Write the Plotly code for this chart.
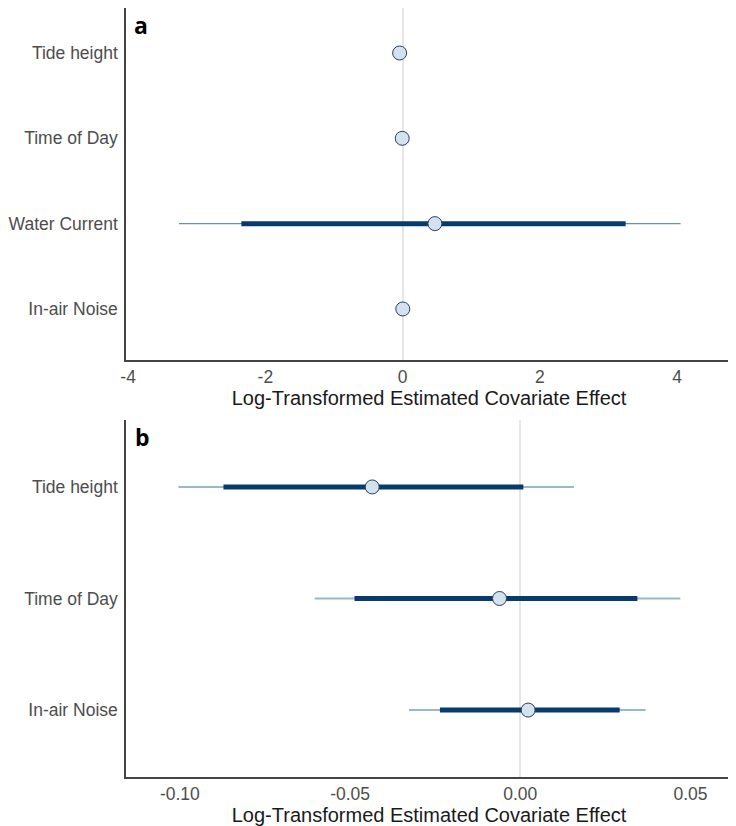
import plotly.graph_objects as go

# ---- data ----
cov_a = ["Tide height", "Time of Day", "Water Current", "In-air Noise"]
est_a = [-0.0435, -0.0061, 0.47, 0.0023]
lo95_a = [-0.1004, -0.0604, -3.26, -0.0327]
hi95_a = [0.0158, 0.0470, 4.05, 0.0368]
lo50_a = [-0.0872, -0.0487, -2.35, -0.0236]
hi50_a = [0.0009, 0.0344, 3.25, 0.0292]

cov_b = ["Tide height", "Time of Day", "In-air Noise"]
est_b = [-0.0435, -0.0061, 0.0023]
lo95_b = [-0.1004, -0.0604, -0.0327]
hi95_b = [0.0158, 0.0470, 0.0368]
lo50_b = [-0.0872, -0.0487, -0.0236]
hi50_b = [0.0009, 0.0344, 0.0292]

ticks_a = [-4, -2, 0, 2, 4]
ticks_b = [-0.10, -0.05, 0.00, 0.05]
xtitle = "Log-Transformed Estimated Covariate Effect"

fig = go.Figure()


def seg(lo, hi, pos):
    xs, ys = [], []
    for l, h, p in zip(lo, hi, pos):
        xs += [l, h, None]
        ys += [p, p, None]
    return xs, ys


def add_panel(cov, est, lo95, hi95, lo50, hi50, xa, ya, thin_color, thin_w):
    n = len(cov)
    pos = [n - i for i in range(n)]
    x, y = seg(lo95, hi95, pos)
    fig.add_trace(go.Scatter(x=x, y=y, mode="lines", xaxis=xa, yaxis=ya,
                             line=dict(color=thin_color, width=thin_w), showlegend=False))
    x, y = seg(lo50, hi50, pos)
    fig.add_trace(go.Scatter(x=x, y=y, mode="lines", xaxis=xa, yaxis=ya,
                             line=dict(color="#073a6d", width=5), showlegend=False))
    fig.add_trace(go.Scatter(x=est, y=pos, mode="markers", xaxis=xa, yaxis=ya,
                             marker=dict(size=14, color="#d2e2ef",
                                         line=dict(color="#2b3d5c", width=1)),
                             showlegend=False))
    return pos


pos_a = add_panel(cov_a, est_a, lo95_a, hi95_a, lo50_a, hi50_a, "x", "y", "#6590b4", 1.3)
pos_b = add_panel(cov_b, est_b, lo95_b, hi95_b, lo50_b, hi50_b, "x2", "y2", "#9ab8cc", 2)

W, H = 728, 818
xdom = [113 / W, 724 / W]
tickfont = dict(family="Liberation Sans, Arial", size=17.5, color="#4d4d4d")
titlefont = dict(family="Liberation Sans, Arial", size=20, color="#1a1a1a")
xcommon = dict(showline=True, linecolor="#444444", linewidth=1.5, showgrid=False,
               ticks="", tickfont=tickfont,
               zeroline=True, zerolinecolor="#e6e6e6", zerolinewidth=1.5)
ycommon = dict(showline=True, linecolor="#444444", linewidth=1.5, showgrid=False,
               ticks="", tickfont=tickfont, zeroline=False, ticklabelstandoff=3)

fig.update_layout(
    width=W, height=H,
    margin=dict(l=0, r=0, t=0, b=0),
    plot_bgcolor="white", paper_bgcolor="white",
    xaxis=dict(domain=xdom, range=[-4.03, 4.8], anchor="y", tickvals=ticks_a,
               ticktext=[f"{v:g}" for v in ticks_a],
               title=dict(text=xtitle, standoff=0, font=titlefont), **xcommon),
    yaxis=dict(domain=[(H - 352) / H, 1.0], range=[0.402, 4.527], anchor="x",
               tickvals=pos_a, ticktext=cov_a, **ycommon),
    xaxis2=dict(domain=xdom, range=[-0.1158, 0.0622], anchor="y2", tickvals=ticks_b,
                ticktext=[f"{v:.2f}" for v in ticks_b],
                title=dict(text=xtitle, standoff=0, font=titlefont), **xcommon),
    yaxis2=dict(domain=[(H - 769) / H, (H - 412) / H], range=[0.4, 3.6], anchor="x2",
                tickvals=pos_b, ticktext=cov_b, **ycommon),
    annotations=[
        dict(text="<b>a</b>", x=120 / W, y=1.0, xref="paper", yref="paper",
             xanchor="left", yanchor="top", showarrow=False, borderpad=0,
             font=dict(family="Open Sans", size=23, color="black")),
        dict(text="<b>b</b>", x=120 / W, y=(H - 429) / H, xref="paper", yref="paper",
             xanchor="left", yanchor="middle", showarrow=False,
             font=dict(family="Open Sans", size=23, color="black")),
    ],
)

fig.write_html("out.html")
